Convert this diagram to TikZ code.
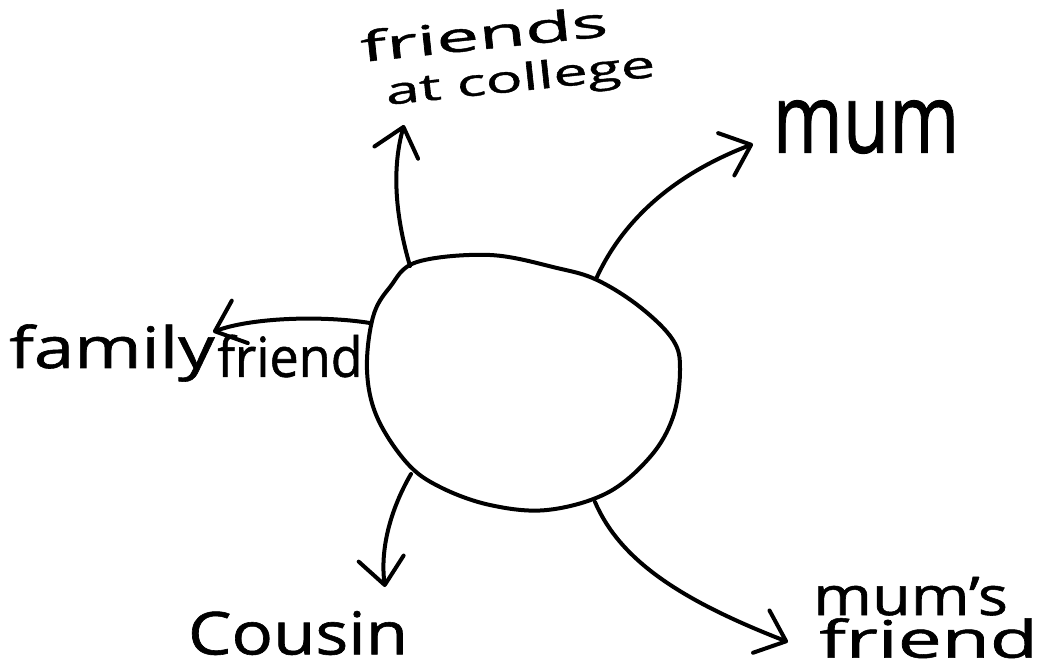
\documentclass[tikz,border=0pt]{standalone}
\usepackage{fontspec}
\setmainfont{Open Sans}[FakeBold=1]
\usetikzlibrary{arrows.meta}
\newcommand{\hw}[3]{\resizebox*{#1}{#2}{#3}}
\begin{document}
\begin{tikzpicture}[x=0.75pt,y=-0.75pt,
  ink/.style={line width=3pt, line cap=round, line join=round},
  link/.style={ink, -{Straight Barb[length=20pt,width=34pt,line width=3pt,round]}},
  lbl/.style={inner sep=0pt, anchor=center}]
\useasboundingbox (0,0) rectangle (1041,668);
\fill[white] (0,0) rectangle (1041,668);
% central blob
\draw[ink] plot[smooth cycle, tension=0.6] coordinates {(417,262) (490,255) (557,268) (597,280) (640,307) (673,340) (680,370) (673,417) (650,457) (607,493) (547,510) (490,505) (440,487) (407,463) (377,417) (367,370) (373,317) (390,287)};
% labels
\node[lbl, rotate=6, anchor=base west] (fac) at (362,62)
  {\hw{186pt}{24pt}{friends}\makebox[0pt][l]{\hspace*{-171pt}\raisebox{-34pt}{\hw{203pt}{28pt}{at college}}}};
\node[lbl] (mum) at (866,127) {\hw{140pt}{40pt}{mum}};
\node[lbl] (fam1) at (112,353) {\hw{154pt}{43pt}{family}};
\node[lbl] (fam2) at (290,356) {\hw{109pt}{32pt}{friend}};
\node[lbl] (cou) at (298,633) {\hw{165pt}{33pt}{Cousin}};
\node[lbl, anchor=base west] (mf) at (813,615)
  {\hw{146pt}{29pt}{mum's}\makebox[0pt][l]{\hspace*{-141.5pt}\raisebox{-32pt}{\hw{164pt}{30pt}{friend}}}};
% connector ends
\coordinate (sFac) at (410,266);
\coordinate (sMum) at (596,279);
\coordinate (sFam) at (370,323);
\coordinate (sCou) at (411,474);
\coordinate (sMf) at (595,502);
\coordinate (tFac) at (404,125);
\coordinate (tMum) at (753,144);
\coordinate (tFam) at (213,332);
\coordinate (tCou) at (385,587);
\coordinate (tMf) at (788,642);
% connectors
\draw[link] (sFac) .. controls (398,225) and (390,175) .. (tFac);
\draw[link] (sMum) .. controls (625,215) and (680,172) .. (tMum);
\draw[link] (sFam) .. controls (320,315) and (250,318) .. (tFam);
\draw[link] (sCou) .. controls (390,510) and (380,550) .. (tCou);
\draw[link] (sMf) .. controls (620,560) and (680,600) .. (tMf);
\end{tikzpicture}
\end{document}
